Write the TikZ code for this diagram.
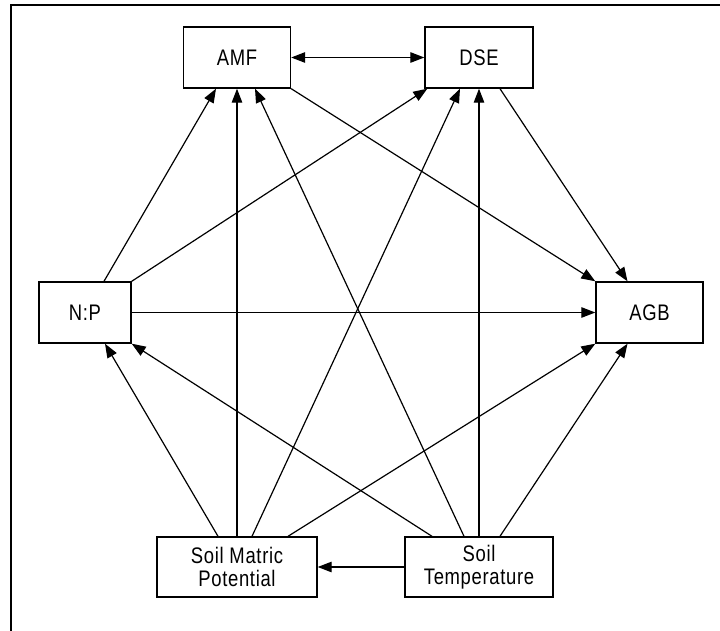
\documentclass[tikz,border=0pt]{standalone}
\usepackage{fontspec}
\newfontfamily\boxfont{Liberation Sans}[LetterSpace=3,FakeStretch=0.82]
\usetikzlibrary{arrows.meta}
\begin{document}
\begin{tikzpicture}
		[x=1pt,y=-1pt,
		mybox/.style={rectangle,draw,line width=1.4pt,inner sep=0pt,align=center,
			font=\boxfont\fontsize{22.5}{23}\selectfont},
		link/.style={line width=1.2pt,-{Triangle[length=14pt,width=10.5pt]}}]
		\useasboundingbox (0,0) rectangle (720,631);
		% frame
		\draw[line width=1.8pt] (11,631) -- (11,5) -- (720,5);
		% boxes
		\node[mybox,name=amf,minimum width=107pt,minimum height=61pt] at (237,57.5) {AMF};
		\node[mybox,name=dse,minimum width=108pt,minimum height=61pt] at (479,57.5) {DSE};
		\node[mybox,name=np,minimum width=92pt,minimum height=61pt] at (85,312.5) {N:P};
		\node[mybox,name=agb,minimum width=107pt,minimum height=61pt] at (649.5,312.5) {AGB};
		\node[mybox,name=smp,minimum width=160pt,minimum height=60pt] at (237,567) {Soil Matric\\Potential};
		\node[mybox,name=st,minimum width=148pt,minimum height=60pt] at (479,567) {Soil\\Temperature};
		% arrows
		\draw[line width=1.2pt,{Triangle[length=14pt,width=10.5pt]}-{Triangle[length=14pt,width=10.5pt]}] (amf) -- (dse);
		\draw[link] ([xshift=19pt]np.north) -- ([xshift=-21pt]amf.south);
		\draw[link] (smp.north) -- (amf.south);
		\draw[link] ([xshift=-15pt]st.north) -- ([xshift=18pt]amf.south);
		\draw[link] (np.north east) -- ([xshift=3pt]dse.south west);
		\draw[link] ([xshift=15pt]smp.north) -- ([xshift=-19pt]dse.south);
		\draw[link] (st.north) -- (dse.south);
		\draw[link] (amf.south east) -- (agb.north west);
		\draw[link] ([xshift=21pt]dse.south) -- ([xshift=-22pt]agb.north);
		\draw[link] (np) -- (agb);
		\draw[link] ([xshift=-19pt]smp.north) -- ([xshift=20pt]np.south);
		\draw[link] ([xshift=-47pt]st.north) -- (np.south east);
		\draw[link] ([xshift=51pt]smp.north) -- (agb.south west);
		\draw[link] ([xshift=21pt]st.north) -- ([xshift=-22pt]agb.south);
		\draw[link] (st) -- (smp);
	\end{tikzpicture}
\end{document}
